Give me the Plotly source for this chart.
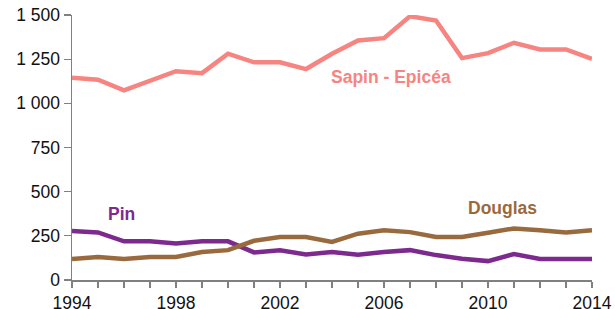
import plotly.graph_objects as go

years = list(range(1994, 2015))
sapin_epicea = [1145, 1134, 1073, 1130, 1182, 1171, 1281, 1232, 1232, 1194, 1281,
                1356, 1369, 1493, 1469, 1256, 1284, 1343, 1305, 1305, 1252]
pin = [278, 269, 219, 219, 207, 219, 219, 156, 168, 145, 158,
       143, 158, 169, 141, 120, 107, 147, 119, 119, 119]
douglas = [119, 130, 119, 130, 130, 158, 169, 222, 243, 243, 216,
           262, 282, 271, 243, 243, 267, 292, 281, 269, 282]

series = [
    ("Sapin - Epicéa", sapin_epicea, "#F68581"),
    ("Pin", pin, "#7D2A8F"),
    ("Douglas", douglas, "#9A6A3F"),
]
labels = [
    ("Sapin - Epicéa", 2006.25, 1147, "#F68581"),
    ("Pin", 1995.9, 373, "#7D2A8F"),
    ("Douglas", 2010.55, 407, "#9A6A3F"),
]

fig = go.Figure()
for name, vals, col in series:
    fig.add_trace(go.Scatter(x=years, y=vals, mode="lines", name=name,
                             line=dict(color=col, width=4.5), hoverinfo="skip"))

for text, x, y, col in labels:
    fig.add_annotation(x=x, y=y, text="<b>%s</b>" % text, showarrow=False,
                       font=dict(family="Liberation Sans, Arial", size=17.5, color=col))

fig.update_layout(
    template="none",
    width=615, height=309,
    margin=dict(l=72, r=23, t=15, b=29, autoexpand=False),
    paper_bgcolor="white", plot_bgcolor="white",
    showlegend=False,
    separators=", ",
    font=dict(family="Liberation Sans, Arial", size=17.5, color="#111111"),
)
fig.update_xaxes(
    automargin=False,
    range=[1994, 2014], tickvals=[1994, 1998, 2002, 2006, 2010, 2014],
    showgrid=False, zeroline=False,
    showline=True, linecolor="#808080", linewidth=1.5,
    ticks="outside", ticklen=6, tickcolor="#808080", tickwidth=1.2,
    minor=dict(dtick=1, tick0=1994, ticks="outside", ticklen=6, tickcolor="#808080", showgrid=False),
    tickfont=dict(size=17.5),
)
fig.update_yaxes(
    automargin=False,
    range=[0, 1500], tickvals=[0, 250, 500, 750, 1000, 1250, 1500],
    tickformat=",d",
    showgrid=False, zeroline=False,
    showline=True, linecolor="#808080", linewidth=1.5,
    ticks="outside", ticklen=7, tickcolor="#808080", tickwidth=1.2,
    tickfont=dict(size=17.5),
)

fig.write_html("out.html", config={"displayModeBar": False, "staticPlot": True},
               post_script="document.body.style.margin='0';document.body.style.overflow='hidden';")
